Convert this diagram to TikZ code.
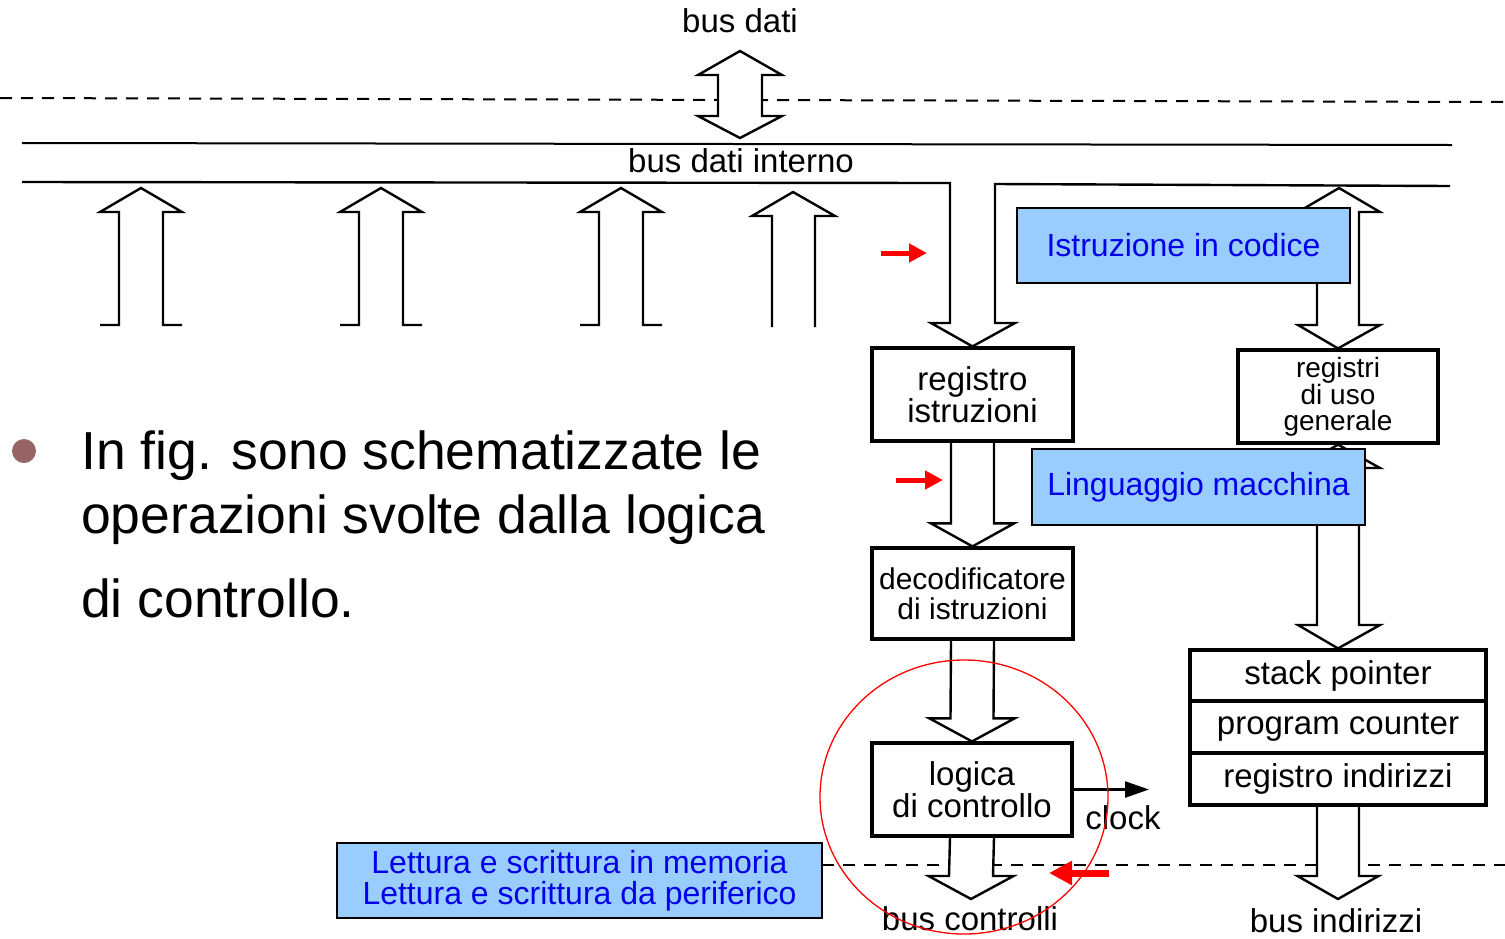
\documentclass[tikz,border=0pt]{standalone}
\usepackage{fontspec}
\setmainfont{Liberation Sans}
\usetikzlibrary{calc,arrows.meta,backgrounds}
\definecolor{lblue}{RGB}{153,204,255}
\definecolor{tblue}{RGB}{0,0,235}
\definecolor{bulcol}{RGB}{150,100,100}
\newcommand\labfont{\fontsize{33}{29}\selectfont}
\newcommand\decfont{\fontsize{30}{30}\selectfont}
\newcommand\genfont{\fontsize{28}{25.5}\selectfont}
\newcommand\bxfont{\fontsize{32}{31}\selectfont}
\newcommand\bigfont{\fontsize{53.5}{60}\selectfont}
% block arrow down: from, to, shaft half width, head half width
\newcommand\blkdown[4]{%
  \filldraw[blk] ($(#1)+(-#3,0)$) -- ($(#2)+(-#3,-23)$) -- ($(#2)+(-#4,-23)$) -- (#2) -- ($(#2)+(#4,-23)$) -- ($(#2)+(#3,-23)$) -- ($(#1)+(#3,0)$);}
% block arrow up with feet
\newcommand\uparw[1]{%
  \draw[blk] ({#1-41},325) -- ({#1-22},325) -- ({#1-22},212) -- ({#1-41},212) -- (#1,188) -- ({#1+41},212) -- ({#1+22},212) -- ({#1+22},325) -- ({#1+41},325);}
\begin{document}
\begin{tikzpicture}[x=1pt,y=-1pt,
  blk/.style={line width=2.4pt, fill=white, line join=miter},
  box/.style={draw, line width=3.2pt, fill=white, inner sep=0pt, align=center, font=\labfont},
  bluebox/.style={draw, line width=1.5pt, fill=lblue, text=tblue, inner sep=0pt, align=center, font=\bxfont},
  lab/.style={inner sep=0pt, font=\labfont},
  dashl/.style={line width=2pt, dash pattern=on 12pt off 9pt},
  redarr/.style={red, line width=5pt, -{Triangle[length=18pt,width=18pt]}},
]
\useasboundingbox (0,0) rectangle (1505,938);

% boxes
\node[box, minimum width=201pt, minimum height=93pt] (reg) at (972.5,394.5) {registro\\istruzioni};
\node[box, minimum width=201pt, minimum height=91pt, font=\decfont] (dec) at (972.5,593.5) {decodificatore\\di istruzioni};
\node[box, minimum width=200pt, minimum height=93pt] (log) at (972,789.5) {logica\\di controllo};
\node[box, minimum width=200pt, minimum height=93pt, font=\genfont] (gen) at (1338,396.5) {registri\\di uso\\generale};
\node[box, minimum width=296pt, minimum height=52pt] (sp) at (1338,676) {stack pointer};
\node[box, minimum width=296pt, minimum height=52pt] (pc) at (1338,727) {program counter};
\node[box, minimum width=296pt, minimum height=52pt] (ri) at (1338,779) {registro indirizzi};

% free ends
\coordinate (bctip) at (971,899);
\coordinate (bitip) at (1338,899);
\coordinate (clk) at (1149,789.5);

% labels
\node[lab, anchor=base] (bd) at (740,32) {bus dati};
\node[lab, anchor=base] (bdi) at (741,172) {bus dati interno};
\node[lab, anchor=base] (bc) at (970,930) {bus controlli};
\node[lab, anchor=base] (bi) at (1336,932) {bus indirizzi};
\node[lab, anchor=base] (clock) at (1123,829) {clock};

\begin{pgfonlayer}{background}
  \draw[dashl] (0,98) -- (1505,102);
  \draw[dashl] (822,865) -- (1505,865);
  \draw[line width=2pt] (22,143) -- (1452,145);
  % internal bus lower line and arrow into instruction register
  \draw[blk, fill=none] (22,182) -- (950,183) -- (950,323) -- (931,323) -- (reg.north) -- (1015,323) -- (995,323) -- (995,184) -- (1450,186);
  % bus dati double arrow
  \filldraw[blk] (740,51) -- (782,75) -- (762,75) -- (762,116) -- (782,116) -- (740,138) -- (698,116) -- (718,116) -- (718,75) -- (698,75) -- cycle;
  % up arrows
  \uparw{141}
  \uparw{381}
  \uparw{621}
  \draw[blk] (772,327) -- (772,216) -- (752,216) -- (793,192) -- (835,216) -- (815,216) -- (815,327);
  % right double arrows
  \filldraw[blk] (1339,188) -- (1380,212) -- (1359,212) -- (1359,325) -- (1380,325) -- (gen.north) -- (1298,325) -- (1317,325) -- (1317,212) -- (1298,212) -- cycle;
  \filldraw[blk] (gen.south) -- (1380,468) -- (1359,468) -- (1359,625) -- (1380,625) -- (sp.north) -- (1298,625) -- (1317,625) -- (1317,468) -- (1298,468) -- cycle;
  % down arrows
  \blkdown{reg.south}{dec.north}{21.5}{41.5}
  \blkdown{dec.south}{log.north}{21.5}{42.5}
  \blkdown{log.south}{bctip}{22}{42.5}
  \blkdown{ri.south}{bitip}{21}{40.5}
\end{pgfonlayer}

% clock
\draw[line width=2.4pt, -{Triangle[length=24pt,width=16pt]}] (log.east) -- (clk);

% blue boxes
\node[bluebox, minimum width=333pt, minimum height=75pt] (ic) at (1183.5,245.5) {Istruzione in codice};
\node[bluebox, minimum width=333pt, minimum height=76pt] (lm) at (1198.5,487) {Linguaggio macchina};
\node[bluebox, minimum width=485pt, minimum height=75pt] (ls) at (579.5,880.5) {Lettura e scrittura in memoria\\Lettura e scrittura da periferico};

% bullet text
\node[circle, fill=bulcol, minimum size=24pt, inner sep=0pt] (bul) at (24,451) {};
\node[anchor=base west, inner sep=0pt, font=\bigfont] (l1) at (81,469) {In fig. sono schematizzate le};
\node[anchor=base west, inner sep=0pt, font=\bigfont] (l2) at (81,533) {operazioni svolte dalla logica};
\node[anchor=base west, inner sep=0pt, font=\bigfont] (l3) at (81,617) {di controllo.};

% red marks
\coordinate (r1a) at (881,253); \coordinate (r1b) at (927,253);
\coordinate (r2a) at (896,480); \coordinate (r2b) at (943,480);
\coordinate (r3a) at (1109,873); \coordinate (r3b) at (1049,873);
\draw[redarr] (r1a) -- (r1b);
\draw[redarr] (r2a) -- (r2b);
\draw[red, line width=7pt, -{Triangle[length=23pt,width=23pt]}] (r3a) -- (r3b);
\draw[red, line width=1.3pt] (964,797) ellipse [x radius=144pt, y radius=137pt];
\end{tikzpicture}
\end{document}
